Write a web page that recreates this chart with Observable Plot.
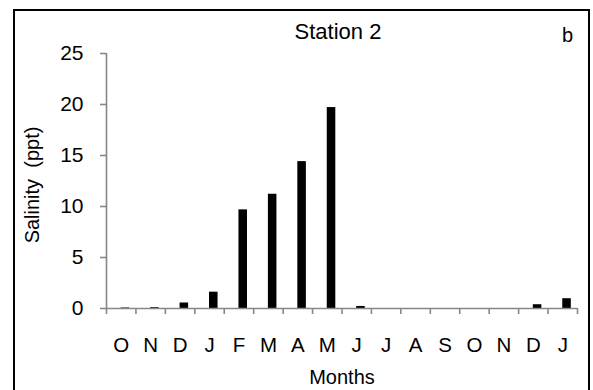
<!DOCTYPE html>
<html>
<head>
<meta charset="utf-8">
<script src="https://cdn.jsdelivr.net/npm/d3@7"></script>
<script src="https://cdn.jsdelivr.net/npm/@observablehq/plot@0.6"></script>
<style>
  html, body { margin: 0; padding: 0; background: #fff; overflow: hidden; }
  #wrap { position: relative; width: 593px; height: 390px; overflow: hidden; }
  #border { position: absolute; left: 13px; top: 9px; width: 573px; height: 400px; border: 2.7px solid #000; pointer-events: none; }
</style>
</head>
<body>
<div id="wrap"><div id="border"></div></div>
<script>
const months = ["O","N","D","J","F","M","A","M","J","J","A","S","O","N","D","J"];
const salinity = [0.05, 0.08, 0.54, 1.6, 9.67, 11.2, 14.4, 19.7, 0.2, 0, 0, 0, 0, 0, 0.37, 0.96];
const yTicks = [0, 5, 10, 15, 20, 25];
const title = "Station 2";
const panel = "b";

const data = months.map((m, i) => ({i, month: m, value: salinity[i]}));
const font = "Liberation Sans, Arial, sans-serif";
const gray = "#878787";

const chart = Plot.plot({
  width: 593,
  height: 390,
  marginLeft: 106,
  marginRight: 16,
  marginTop: 53,
  marginBottom: 82,
  style: {fontFamily: font, fontSize: "20px", background: "transparent", overflow: "visible"},
  x: {domain: [0, months.length], axis: null},
  y: {domain: [0, 25], axis: null},
  marks: [
    Plot.rectY(data, {x1: "i", x2: d => d.i + 1, y1: 0, y2: "value", fill: "#000", insetLeft: 14.7, insetRight: 6.2}),
    Plot.ruleY([0], {x1: 0, x2: months.length, stroke: gray, strokeWidth: 1.6}),
    Plot.ruleX([0], {y1: 0, y2: 25, stroke: gray, strokeWidth: 1.6}),
    Plot.axisX({ticks: d3.range(months.length + 1), tickFormat: () => "", tickSize: 6, stroke: gray, strokeWidth: 1.6, label: null}),
    Plot.axisY({ticks: yTicks, tickSize: 6, tickPadding: 17, stroke: gray, strokeWidth: 1.6, fill: "#000", fontSize: 21, label: null}),
    Plot.text(data, {x: d => d.i + 0.5, frameAnchor: "bottom", text: "month", dy: 37, lineAnchor: "middle", fill: "#000", fontSize: 20.5}),
    Plot.text([title], {frameAnchor: "top", dx: -4, dy: -22, lineAnchor: "middle", fontSize: 22, fill: "#000"}),
    Plot.text([panel], {frameAnchor: "top-right", dx: -10, dy: -18, lineAnchor: "middle", textAnchor: "middle", fontSize: 20, fill: "#000"}),
    Plot.text(["Months"], {frameAnchor: "bottom", dy: 69, lineAnchor: "middle", fontSize: 20, fill: "#000"}),
    Plot.text(["Salinity  (ppt)"], {frameAnchor: "left", dx: -74, dy: 4, rotate: -90, lineAnchor: "middle", textAnchor: "middle", fontSize: 20, fill: "#000"})
  ]
});
document.getElementById("wrap").prepend(chart);
</script>
</body>
</html>
